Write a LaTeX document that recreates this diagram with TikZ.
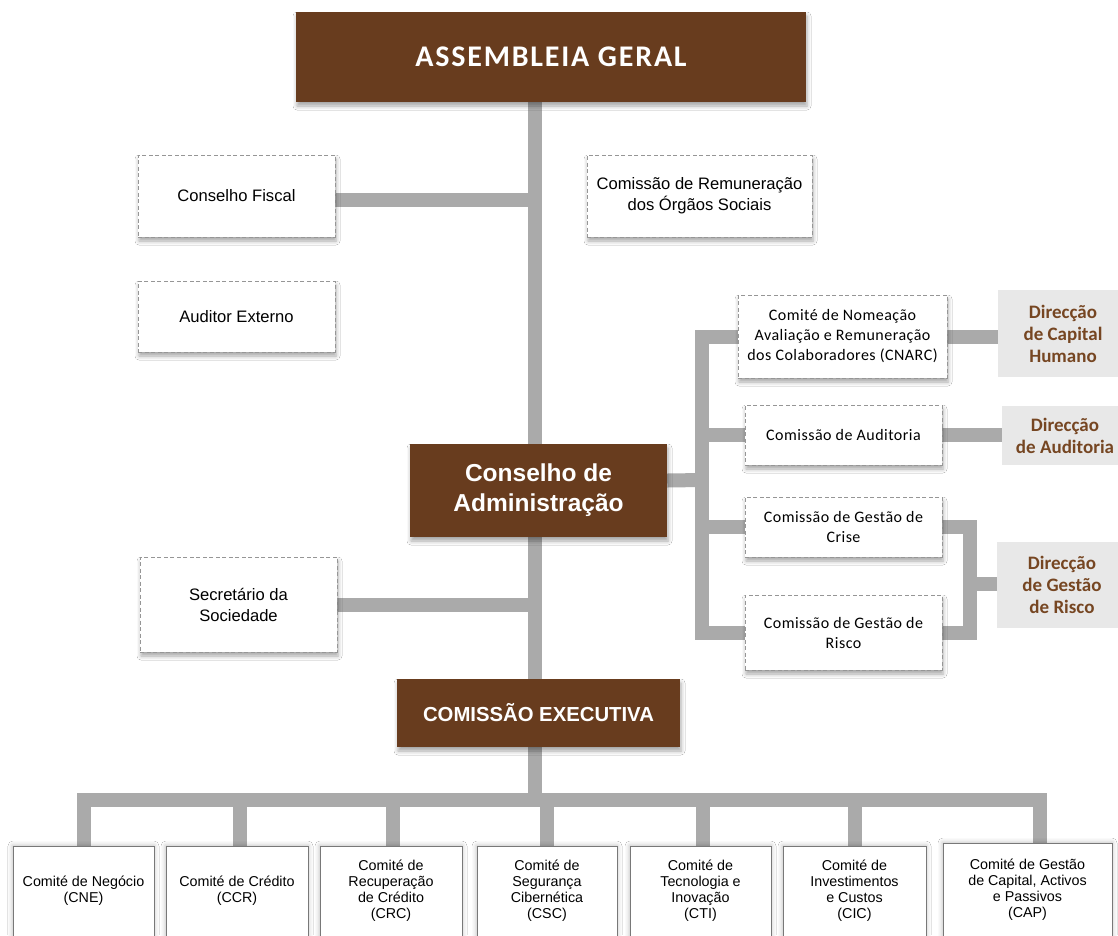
\documentclass[tikz,border=0pt]{standalone}
\usepackage{fontspec}
\setmainfont{Liberation Sans}
\newfontfamily\calfont[LetterSpace=3]{Carlito}
\newfontfamily\dirfont{Carlito}
\newfontfamily\calspaced[LetterSpace=6]{Carlito}
\usetikzlibrary{shadows.blur,backgrounds}
\definecolor{brownbox}{RGB}{104,60,30}
\definecolor{browntext}{RGB}{118,70,34}
\definecolor{dirfill}{RGB}{232,232,232}
\definecolor{conncol}{RGB}{170,170,170}
\definecolor{dashcol}{RGB}{150,150,150}
\definecolor{botline}{RGB}{120,120,120}
\begin{document}
\begin{tikzpicture}[x=1pt,y=-1pt,
  conn/.style={draw=conncol, line width=14pt, line join=miter},
  softshadow/.style={blur shadow={shadow xshift=1pt, shadow yshift=-4pt, shadow blur radius=4pt, shadow opacity=35}},
  dbox/.style={draw=dashcol, dash pattern=on 4pt off 2.5pt, line width=0.8pt, fill=white, align=center, inner sep=0pt, softshadow, font=\fontsize{16.6}{21}\selectfont},
  cbox/.style={dbox, font=\calfont\fontsize{16}{20}\selectfont},
  brownnode/.style={fill=brownbox, text=white, align=center, inner sep=0pt, softshadow},
  dirbox/.style={fill=dirfill, text=browntext, align=center, inner sep=0pt, font=\dirfont\bfseries\fontsize{19}{22}\selectfont},
  botbox/.style={draw=botline, line width=0.6pt, fill=white, align=center, inner sep=0pt, minimum height=90pt, font=\fontsize{14.3}{16}\selectfont, blur shadow={shadow xshift=0pt, shadow yshift=0pt, shadow blur radius=5pt, shadow opacity=30}}
]
\useasboundingbox (0,0) rectangle (1118,935);

% top
\node[brownnode, minimum width=510pt, minimum height=90pt, font=\calspaced\bfseries\fontsize{30}{34}\selectfont] (ag) at (551,57) {ASSEMBLEIA GERAL};
\node[dbox, minimum width=197pt, minimum height=82pt] (cf) at (236.5,196) {Conselho Fiscal};
\node[dbox, minimum width=225pt, minimum height=82pt] (crem) at (699.5,196) {Comissão de Remuneração\\dos Órgãos Sociais};
\node[dbox, minimum width=197pt, minimum height=71pt] (ae) at (236.5,316.5) {Auditor Externo};

% board
\node[brownnode, minimum width=257pt, minimum height=93pt, font=\bfseries\fontsize{24.5}{30}\selectfont] (ca) at (538.5,490.5) {Conselho de\\Administração};
\node[dbox, minimum width=197pt, minimum height=95pt] (ss) at (238.5,604.5) {Secretário da\\Sociedade};
\node[brownnode, minimum width=283pt, minimum height=68pt, font=\bfseries\fontsize{20.3}{24}\selectfont] (ce) at (538.5,713) {COMISSÃO EXECUTIVA};

% right side committees
\node[cbox, minimum width=209pt, minimum height=83pt] (cnarc) at (842.5,336.5) {Comité de Nomeação\\Avaliação e Remuneração\\dos Colaboradores (CNARC)};
\node[cbox, minimum width=197pt, minimum height=60pt] (aud) at (843.5,435) {Comissão de Auditoria};
\node[cbox, minimum width=197pt, minimum height=60pt] (crise) at (843.5,527) {Comissão de Gestão de\\Crise};
\node[cbox, minimum width=197pt, minimum height=75pt] (risco) at (843.5,632.5) {Comissão de Gestão de\\Risco};

\node[dirbox, minimum width=130pt, minimum height=87pt] (dch) at (1063,333.5) {Direcção\\de Capital\\Humano};
\node[dirbox, minimum width=126pt, minimum height=59pt] (da) at (1065,435.5) {Direcção\\de Auditoria};
\node[dirbox, minimum width=130pt, minimum height=86pt] (dgr) at (1062,585) {Direcção\\de Gestão\\de Risco};

% bottom committees
\node[botbox, minimum width=141pt] (cne) at (83.5,891) {Comité de Negócio\\(CNE)};
\node[botbox, minimum width=142pt] (ccr) at (237,891) {Comité de Crédito\\(CCR)};
\node[botbox, minimum width=142pt] (crc) at (391,891) {Comité de\\Recuperação\\de Crédito\\(CRC)};
\node[botbox, minimum width=140pt] (csc) at (547,891) {Comité de\\Segurança\\Cibernética\\(CSC)};
\node[botbox, minimum width=141pt] (cti) at (700.5,891) {Comité de\\Tecnologia e\\Inovação\\(CTI)};
\node[botbox, minimum width=143pt] (cic) at (854.5,891) {Comité de\\Investimentos\\e Custos\\(CIC)};
\node[botbox, minimum width=169pt, minimum height=93pt] (cap) at (1027.5,889.5) {Comité de Gestão\\de Capital, Activos\\e Passivos\\(CAP)};

% helper coordinates
\coordinate (mx) at (535,0);
\coordinate (bk) at (702,480);
\coordinate (rk) at (970,584);
\coordinate (bar) at (0,800);

\begin{scope}[on background layer]
  \fill[white] (0,0) rectangle (1118,935);
  % main spine
  \draw[conn] (ag.south -| mx) -- (ca.north -| mx);
  \draw[conn] (ca.south -| mx) -- (ce.north -| mx);
  \draw[conn] (ce.south -| mx) -- (mx |- bar);
  % side branches
  \draw[conn] ([yshift=-4pt]cf.east) -- ([yshift=-4pt]cf.east -| mx);
  \draw[conn] (ss.east) -- (ss.east -| mx);
  % board committees bracket
  \draw[conn] ([yshift=10pt]ca.east) -- (bk);
  \draw[conn] (cnarc.west) -- (cnarc.west -| bk) -- (risco.west -| bk) -- (risco.west);
  \draw[conn] (aud.west) -- (aud.west -| bk);
  \draw[conn] (crise.west) -- (crise.west -| bk);
  % to directorates
  \draw[conn] (cnarc.east) -- (cnarc.east -| dch.west);
  \draw[conn] (aud.east) -- (aud.east -| da.west);
  \draw[conn] (crise.east) -- (crise.east -| rk) -- (risco.east -| rk) -- (risco.east);
  \draw[conn] (rk) -- (rk -| dgr.west);
  % bottom bar
  \draw[conn] (cne.north) -- (cne.north |- bar) -- ([xshift=12.5pt]cap.north |- bar) -- ([xshift=12.5pt]cap.north);
  \draw[conn] ([xshift=3pt]ccr.north) -- ([xshift=3pt]ccr.north |- bar);
  \draw[conn] ([xshift=2pt]crc.north) -- ([xshift=2pt]crc.north |- bar);
  \draw[conn] (csc.north) -- (csc.north |- bar);
  \draw[conn] ([xshift=2.5pt]cti.north) -- ([xshift=2.5pt]cti.north |- bar);
  \draw[conn] (cic.north) -- (cic.north |- bar);
\end{scope}
\end{tikzpicture}
\end{document}
